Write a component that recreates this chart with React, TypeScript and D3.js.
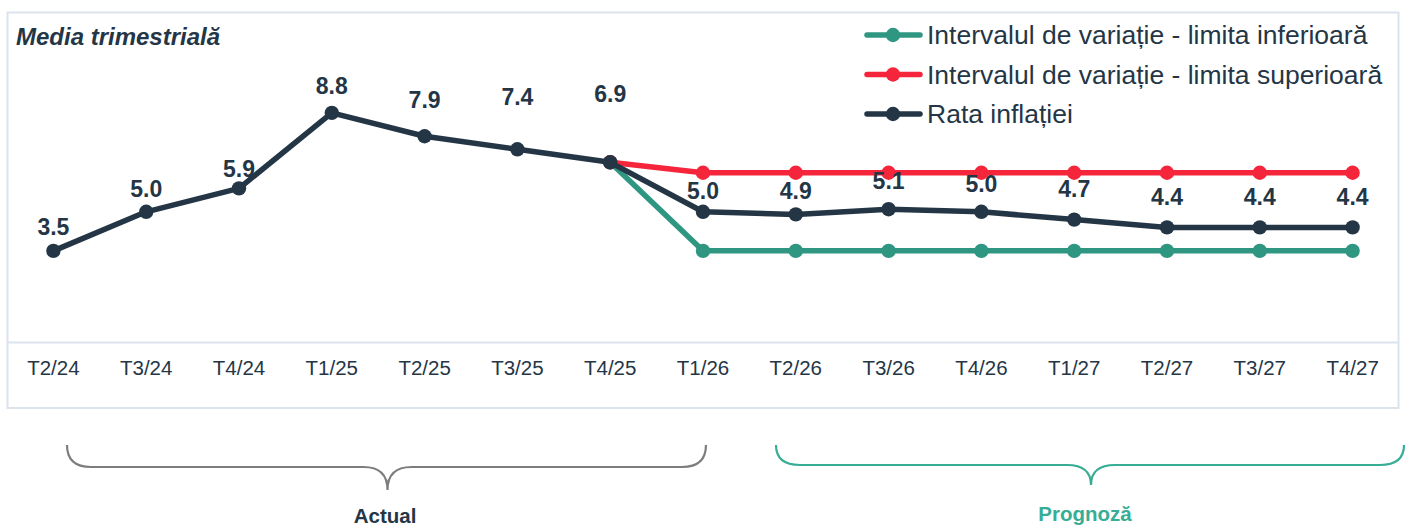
import React from "react";
import * as d3 from "d3";

const categories = ["T2/24","T3/24","T4/24","T1/25","T2/25","T3/25","T4/25","T1/26","T2/26","T3/26","T4/26","T1/27","T2/27","T3/27","T4/27"];
const inflation = [3.5, 5.0, 5.9, 8.8, 7.9, 7.4, 6.9, 5.0, 4.9, 5.1, 5.0, 4.7, 4.4, 4.4, 4.4];
const upperBound: (number | null)[] = [null, null, null, null, null, null, 6.9, 6.5, 6.5, 6.5, 6.5, 6.5, 6.5, 6.5, 6.5];
const lowerBound: (number | null)[] = [null, null, null, null, null, null, 6.9, 3.5, 3.5, 3.5, 3.5, 3.5, 3.5, 3.5, 3.5];
const seriesNames = ["Intervalul de variație - limita inferioară", "Intervalul de variație - limita superioară", "Rata inflației"];
const title = "Media trimestrială";
const yDomain = [0, 12];

// layout: label baseline distance above each point (px)
const labelLift = [16, 15, 11.5, 19, 28, 44, 60.5, 13, 15.5, 20, 20, 22.5, 22.5, 22.5, 22.5];

const W = 1406, H = 527;
const C_DARK = "#243646";
const C_RED = "#f5263b";
const C_GREEN = "#2f9682";
const C_TEAL = "#38ad95";
const C_GRAY = "#7d7d7d";
const C_BORDER = "#dbe4ec";
const FONT = "'Liberation Sans', Arial, sans-serif";

function brace(x0: number, x1: number, xc: number, y0: number, yh: number, yt: number, r: number) {
  return `M${x0},${y0} Q${x0},${yh} ${x0 + r},${yh} L${xc - r},${yh} Q${xc},${yh} ${xc},${yt} Q${xc},${yh} ${xc + r},${yh} L${x1 - r},${yh} Q${x1},${yh} ${x1},${y0}`;
}

export default function App() {
  const x = d3.scaleBand<string>().domain(categories).range([7, 1399]).padding(0);
  const cx = (i: number) => (x(categories[i]) as number) + x.bandwidth() / 2;
  const y = d3.scaleLinear().domain(yDomain).range([342, 29.5]);

  const line = d3.line<number | null>()
    .defined((d) => d != null)
    .x((_, i) => cx(i))
    .y((d) => y(d as number));

  const series = [
    { name: seriesNames[0], data: lowerBound, color: C_GREEN },
    { name: seriesNames[1], data: upperBound, color: C_RED },
    { name: seriesNames[2], data: inflation as (number | null)[], color: C_DARK },
  ];

  const legendY = [35, 74.5, 114];

  return (
    <svg width={W} height={H} style={{ position: "absolute", left: 0, top: 0, fontFamily: FONT }}>
      <rect x={0} y={0} width={W} height={H} fill="#fff" />
      <rect x={7.5} y={12.5} width={1391} height={395.5} fill="none" stroke={C_BORDER} strokeWidth={2} />
      <line x1={7} x2={1399} y1={y(0) + 0.5} y2={y(0) + 0.5} stroke={C_BORDER} strokeWidth={2} />

      <text x={16} y={44.5} fontSize={24} fontWeight="bold" fontStyle="italic" fill={C_DARK}>{title}</text>

      {categories.map((c, i) => (
        <text key={c} x={cx(i)} y={375} textAnchor="middle" fontSize={20.5} fill={C_DARK}>{c}</text>
      ))}

      {series.map((s) => (
        <g key={s.name}>
          <path d={line(s.data) || ""} fill="none" stroke={s.color} strokeWidth={5.5} strokeLinejoin="round" />
          {s.data.map((v, i) => v == null ? null : (
            <circle key={i} cx={cx(i)} cy={y(v)} r={7.2} fill={s.color} />
          ))}
        </g>
      ))}

      {inflation.map((v, i) => (
        <text key={i} x={cx(i)} y={y(v) - labelLift[i]} textAnchor="middle" fontSize={23} fontWeight="bold" fill={C_DARK}>{v.toFixed(1)}</text>
      ))}

      {series.map((s, k) => (
        <g key={s.name} transform={`translate(0,${legendY[k]})`}>
          <line x1={867} x2={920} y1={0} y2={0} stroke={s.color} strokeWidth={5.5} strokeLinecap="round" />
          <circle cx={893} cy={0} r={7.2} fill={s.color} />
          <text x={927} y={0} dy="0.35em" fontSize={26.5} fill={C_DARK}>{s.name}</text>
        </g>
      ))}

      <path d={brace(67, 706, 387.5, 445, 467, 490, 24)} fill="none" stroke={C_GRAY} strokeWidth={2.2} />
      <text x={385} y={523} textAnchor="middle" fontSize={20.5} fontWeight="bold" fill={C_DARK}>Actual</text>

      <path d={brace(776, 1404, 1091, 445, 465, 485, 24)} fill="none" stroke={C_TEAL} strokeWidth={2.2} />
      <text x={1085} y={521} textAnchor="middle" fontSize={20.5} fontWeight="bold" fill={C_TEAL}>Prognoză</text>
    </svg>
  );
}
